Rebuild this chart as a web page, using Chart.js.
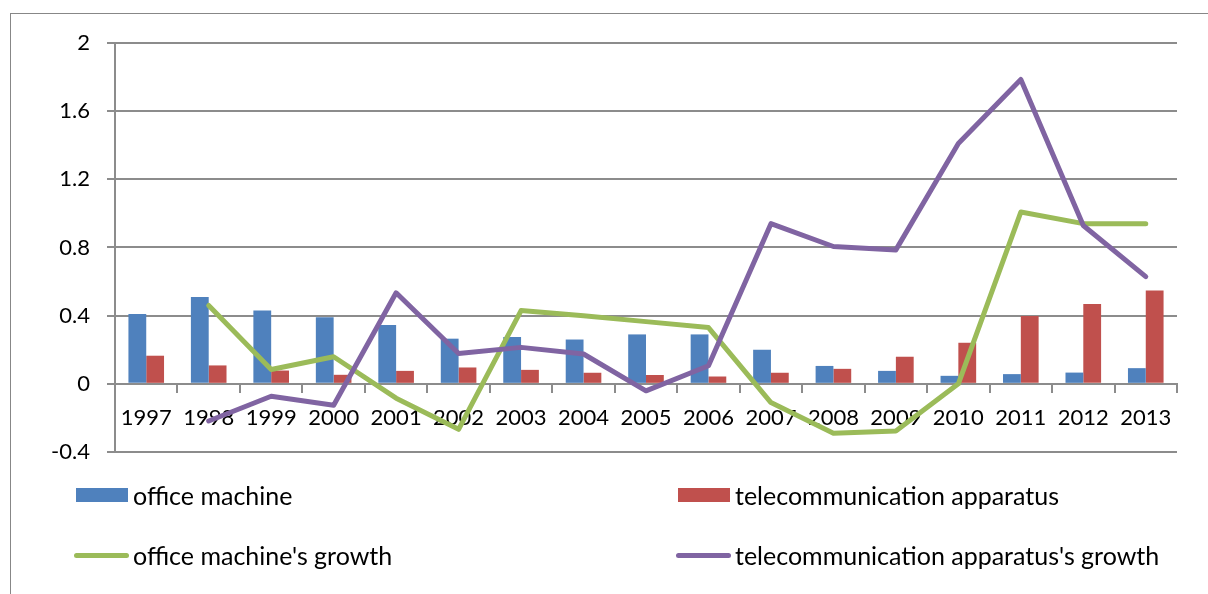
<!DOCTYPE html>
<html>
<head>
<meta charset="utf-8">
<script src="https://cdn.jsdelivr.net/npm/chart.js@4"></script>
<style>
  body { margin: 0; background: #fff; font-family: Lato, sans-serif; }
  #wrap { position: relative; width: 1208px; height: 594px; overflow: hidden; }
  #frame { position: absolute; left: 10px; top: 13px; width: 1400px; height: 800px;
           border-left: 1px solid #878787; border-top: 1px solid #878787; }
  #chartBox { position: absolute; left: 0; top: 0; width: 1208px; height: 594px; }
  .item { position: absolute; font-size: 25px; color: #000; white-space: nowrap; line-height: 26px; }
  .swatch { position: absolute; }
</style>
</head>
<body>
<div id="wrap">
  <div id="frame"></div>
  <div id="chartBox"><canvas id="chart"></canvas></div>
  <div id="legend"></div>
</div>
<script>
const years = ['1997', '1998', '1999', '2000', '2001', '2002', '2003', '2004', '2005',
               '2006', '2007', '2008', '2009', '2010', '2011', '2012', '2013'];

const officeMachine = [0.41, 0.51, 0.43, 0.39, 0.345, 0.265, 0.275, 0.26, 0.29,
                       0.29, 0.20, 0.105, 0.076, 0.047, 0.057, 0.066, 0.092];
const telecom = [0.165, 0.108, 0.078, 0.053, 0.076, 0.096, 0.082, 0.065, 0.052,
                 0.043, 0.065, 0.088, 0.159, 0.241, 0.398, 0.469, 0.547];
const officeGrowth = [null, 0.46, 0.084, 0.159, -0.084, -0.267, 0.43, 0.40, 0.365,
                      0.33, -0.11, -0.29, -0.277, 0.0, 1.008, 0.94, 0.94];
const telecomGrowth = [null, -0.218, -0.073, -0.126, 0.534, 0.178, 0.214, 0.175, -0.041,
                       0.106, 0.94, 0.806, 0.786, 1.41, 1.786, 0.929, 0.629];

const yTicks = [-0.4, 0, 0.4, 0.8, 1.2, 1.6, 2];

const gridGray = '#8c8c8c';
const tickFont = { family: 'Lato', size: 22 };

const ctx = document.getElementById('chart').getContext('2d');
const chart = new Chart(ctx, {
  type: 'bar',
  data: {
    labels: years,
    datasets: [
      { type: 'bar', label: 'office machine', data: officeMachine,
        backgroundColor: '#4F81BD', order: 2 },
      { type: 'bar', label: 'telecommunication apparatus', data: telecom,
        backgroundColor: '#C0504D', order: 2 },
      { type: 'line', label: "office machine's growth", data: officeGrowth,
        borderColor: '#9BBB59', backgroundColor: '#9BBB59', borderWidth: 5,
        pointRadius: 0, tension: 0, borderJoinStyle: 'round', borderCapStyle: 'round', order: 1 },
      { type: 'line', label: "telecommunication apparatus's growth", data: telecomGrowth,
        borderColor: '#8064A2', backgroundColor: '#8064A2', borderWidth: 5,
        pointRadius: 0, tension: 0, borderJoinStyle: 'round', borderCapStyle: 'round', order: 0 }
    ]
  },
  options: {
    responsive: true,
    maintainAspectRatio: false,
    animation: false,
    datasets: { bar: { categoryPercentage: 0.57, barPercentage: 1 } },
    layout: { padding: { left: 0, top: 43, right: 31, bottom: 142 } },
    plugins: { legend: { display: false }, tooltip: { enabled: false } },
    scales: {
      x: {
        position: { y: 0 },
        grid: { display: true, drawOnChartArea: false, offset: true, tickLength: 8,
                color: gridGray, lineWidth: 2 },
        border: { color: gridGray, width: 2 },
        ticks: { color: '#000', font: tickFont, padding: 13, maxRotation: 0, autoSkip: false }
      },
      y: {
        min: yTicks[0],
        max: yTicks[yTicks.length - 1],
        afterFit: s => { s.width = 115; },
        afterBuildTicks: s => { s.ticks = yTicks.map(v => ({ value: v })); },
        grid: { color: gridGray, tickLength: 8, lineWidth: 2 },
        border: { color: gridGray, width: 2 },
        ticks: { color: '#000', font: tickFont, padding: 17,
                 callback: v => String(Number(v.toFixed(1))) }
      }
    }
  }
});

// legend in two columns, built from the datasets
const legendSpots = [
  { x: 76, y: 495 }, { x: 678, y: 495 },
  { x: 76, y: 555 }, { x: 678, y: 555 }
];
const legend = document.getElementById('legend');
chart.data.datasets.forEach((ds, i) => {
  const spot = legendSpots[i];
  const sw = document.createElement('div');
  sw.className = 'swatch';
  if (ds.type === 'bar') {
    sw.style.cssText = `left:${spot.x}px;top:${spot.y - 7}px;width:52px;height:14px;background:${ds.backgroundColor}`;
  } else {
    sw.style.cssText = `left:${spot.x - 2}px;top:${spot.y - 2}px;width:55px;height:5px;border-radius:3px;background:${ds.borderColor}`;
  }
  legend.appendChild(sw);
  const t = document.createElement('div');
  t.className = 'item';
  t.style.left = (spot.x + 57) + 'px';
  t.style.top = (spot.y - 13) + 'px';
  t.textContent = ds.label;
  legend.appendChild(t);
});
</script>
</body>
</html>
